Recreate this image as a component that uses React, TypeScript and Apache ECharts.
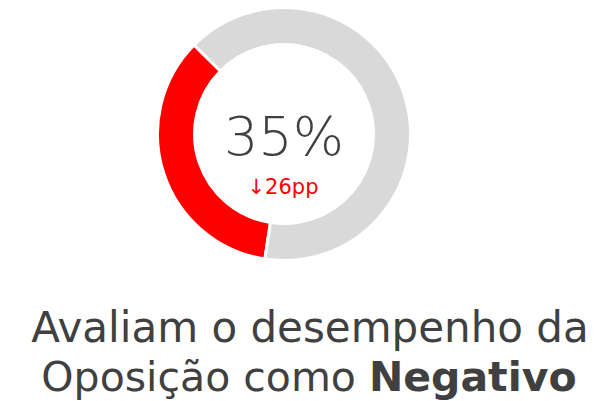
import React, { useEffect, useRef } from "react";
import * as echarts from "echarts";

const categories = ["Negativo", "Restante"];
const values = [35, 65];
const colors = ["#FF0000", "#D9D9D9"];
const mainLabel = "35%";
const deltaLabel = "↓26pp";
const captionLine1 = "Avaliam o desempenho da";
const captionLine2a = "Oposição como ";
const captionLine2b = "Negativo";

const FONT = "'DejaVu Sans', sans-serif";

function measure(text: string, font: string): number {
  const c = document.createElement("canvas").getContext("2d");
  if (!c) return text.length * 20;
  c.font = font;
  return c.measureText(text).width;
}

export default function App() {
  const ref = useRef<HTMLDivElement>(null);
  useEffect(() => {
    if (!ref.current) return;
    const chart = echarts.init(ref.current, null, { renderer: "svg" });
    const fontA = `400 41px ${FONT}`;
    const fontB = `700 41px ${FONT}`;
    const wA = measure(captionLine2a, fontA);
    const wB = measure(captionLine2b, fontB);
    const cx2 = 309;
    const startX = cx2 - (wA + wB) / 2;
    chart.setOption({
      animation: false,
      backgroundColor: "#FFFFFF",
      series: [
        {
          type: "pie",
          center: [284, 134],
          radius: [89.5, 126.5],
          startAngle: -98.7,
          clockwise: true,
          label: { show: false },
          labelLine: { show: false },
          silent: true,
          itemStyle: { borderColor: "#FFFFFF", borderWidth: 3 },
          data: categories.map((c, i) => ({
            name: c,
            value: values[i],
            itemStyle: { color: colors[i] },
          })),
        },
      ],
      graphic: [
        {
          type: "text",
          style: {
            x: 284,
            y: 136,
            text: mainLabel,
            font: `200 54px ${FONT}`,
            fill: "#404040",
            textAlign: "center",
            textVerticalAlign: "middle",
          },
        },
        {
          type: "text",
          style: {
            x: 283,
            y: 187,
            text: deltaLabel,
            font: `400 21px ${FONT}`,
            fill: "#FF0000",
            textAlign: "center",
            textVerticalAlign: "middle",
          },
        },
        {
          type: "text",
          style: {
            x: 310,
            y: 327,
            text: captionLine1,
            font: `400 42px ${FONT}`,
            fill: "#404040",
            textAlign: "center",
            textVerticalAlign: "middle",
          },
        },
        {
          type: "text",
          style: {
            x: startX,
            y: 377,
            text: captionLine2a,
            font: fontA,
            fill: "#404040",
            textAlign: "left",
            textVerticalAlign: "middle",
          },
        },
        {
          type: "text",
          style: {
            x: startX + wA,
            y: 377,
            text: captionLine2b,
            font: fontB,
            fill: "#404040",
            textAlign: "left",
            textVerticalAlign: "middle",
          },
        },
      ],
    });
    return () => chart.dispose();
  }, []);
  return <div ref={ref} style={{ width: 603, height: 401, position: "absolute", left: 0, top: 0 }} />;
}
